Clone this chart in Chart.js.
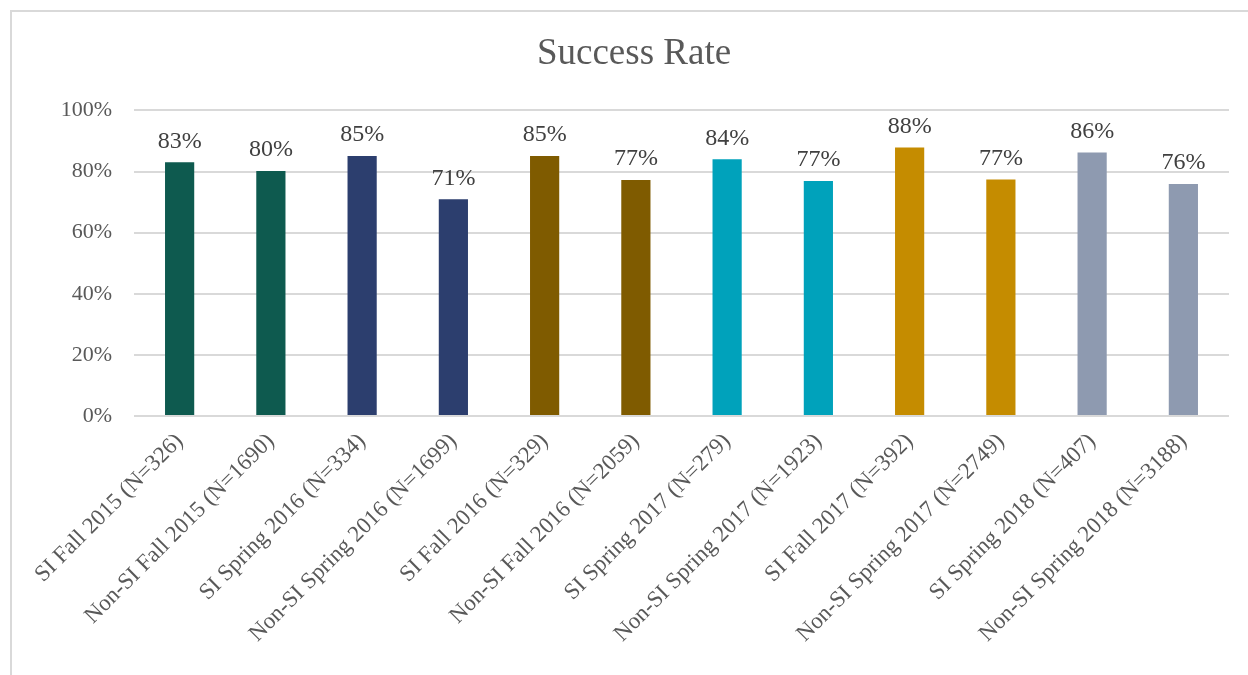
<!DOCTYPE html>
<html>
<head>
<meta charset="utf-8">
<script src="https://cdn.jsdelivr.net/npm/chart.js@4.4.0/dist/chart.umd.min.js"></script>
<style>
  html, body { margin: 0; padding: 0; background: #fff; overflow: hidden; }
  #frame {
    position: absolute; left: 10px; top: 10px;
    width: 1250px; height: 680px;
    border-left: 2px solid #d9d9d9; border-top: 2px solid #d9d9d9;
  }
  #chart { display: block; }
</style>
</head>
<body>
<div id="frame"><canvas id="chart" width="1244" height="665"></canvas></div>
<script>
// ---------- Data ----------
const categories = [
  'SI Fall 2015 (N=326)', 'Non-SI Fall 2015 (N=1690)',
  'SI Spring 2016 (N=334)', 'Non-SI Spring 2016 (N=1699)',
  'SI Fall 2016 (N=329)', 'Non-SI Fall 2016 (N=2059)',
  'SI Spring 2017 (N=279)', 'Non-SI Spring 2017 (N=1923)',
  'SI Fall 2017 (N=392)', 'Non-SI Spring 2017 (N=2749)',
  'SI Spring 2018 (N=407)', 'Non-SI Spring 2018 (N=3188)'
];
const successRate = [0.83, 0.802, 0.851, 0.709, 0.851, 0.772, 0.84, 0.769, 0.879, 0.774, 0.862, 0.759];
const barColors = [
  '#0e5a4f', '#0e5a4f', '#2c3e6e', '#2c3e6e', '#7f5b00', '#7f5b00',
  '#00a2bb', '#00a2bb', '#c58c00', '#c58c00', '#8e9ab0', '#8e9ab0'
];
const yTicks = [0, 0.2, 0.4, 0.6, 0.8, 1.0];

const SERIF = '"Liberation Serif", "DejaVu Serif", serif';
const GREY = '#595959';

// ---------- value labels above bars ----------
const valueLabels = {
  id: 'valueLabels',
  afterDatasetsDraw(chart) {
    const { ctx } = chart;
    const meta = chart.getDatasetMeta(0);
    ctx.save();
    ctx.font = `24px ${SERIF}`;
    ctx.fillStyle = '#404040';
    ctx.textAlign = 'center';
    ctx.textBaseline = 'bottom';
    meta.data.forEach((bar, i) => {
      ctx.fillText(Math.round(successRate[i] * 100) + '%', bar.x, bar.y - 9);
    });
    ctx.restore();
  }
};

new Chart(document.getElementById('chart'), {
  type: 'bar',
  data: {
    labels: categories,
    datasets: [{
      data: successRate,
      backgroundColor: barColors,
      barPercentage: 0.32,
      categoryPercentage: 1.0
    }]
  },
  options: {
    responsive: false,
    animation: false,
    layout: { padding: 0 },
    plugins: {
      legend: { display: false },
      tooltip: { enabled: false },
      title: {
        display: true,
        text: 'Success Rate',
        color: GREY,
        font: { family: SERIF, size: 37, weight: 'normal' },
        padding: { top: 20, bottom: 34 }
      }
    },
    scales: {
      x: {
        grid: { display: false },
        border: { display: false },
        ticks: {
          color: GREY,
          font: { family: SERIF, size: 23 },
          minRotation: 45, maxRotation: 45,
          padding: 4
        },
        afterFit(scale) { scale.height = 261; }
      },
      y: {
        min: 0, max: 1,
        afterBuildTicks(scale) { scale.ticks = yTicks.map(v => ({ value: v })); },
        grid: { color: '#d9d9d9', lineWidth: 2, drawTicks: false },
        border: { display: false },
        ticks: {
          color: GREY,
          font: { family: SERIF, size: 22 },
          padding: 22,
          callback: v => Math.round(v * 100) + '%'
        },
        afterFit(scale) { scale.width = 122; }
      },
      // empty right margin so the title stays centred on the whole frame
      yRight: {
        position: 'right',
        display: true,
        grid: { display: false },
        border: { display: false },
        ticks: { display: false },
        afterFit(scale) { scale.width = 27; }
      }
    }
  },
  plugins: [valueLabels]
});
</script>
</body>
</html>
